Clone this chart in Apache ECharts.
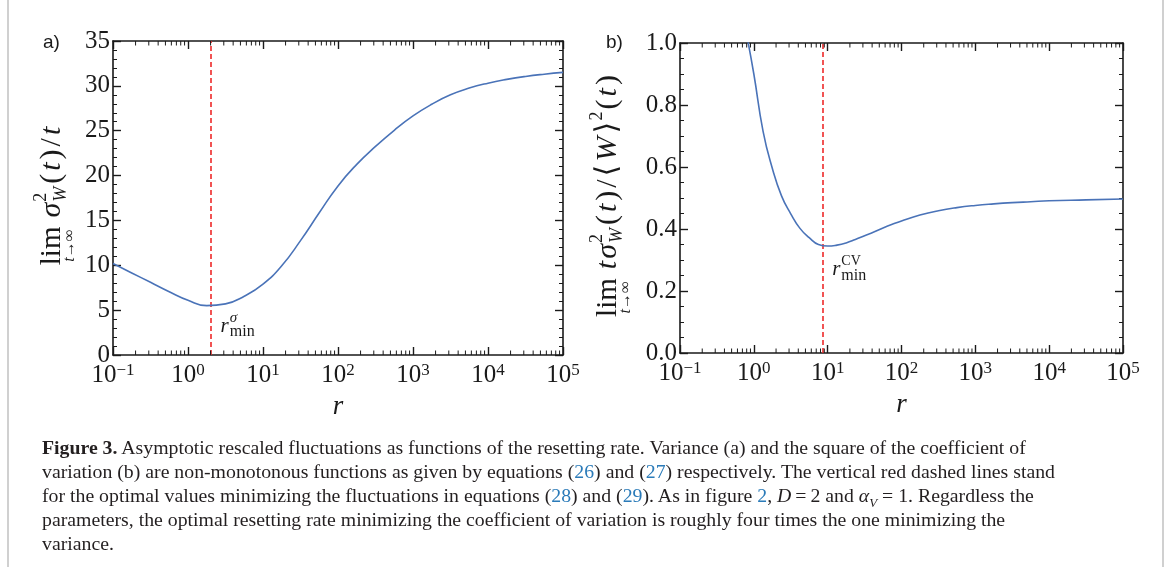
<!DOCTYPE html>
<html><head><meta charset="utf-8">
<script src="https://cdn.jsdelivr.net/npm/echarts@6/dist/echarts.min.js"></script>
<style>
html,body{margin:0;padding:0;background:#fff;}
#wrap{position:relative;width:1170px;height:567px;overflow:hidden;background:#fff;}
#chart{position:absolute;left:0;top:0;width:1170px;height:567px;}
.bl{position:absolute;top:0;width:2px;height:567px;background:#d0d0d0;}
#cap{position:absolute;left:42px;top:435px;font-family:'Liberation Serif','DejaVu Serif',serif;font-size:19.8px;line-height:24px;color:#231f20;white-space:nowrap;}
#cap .ln{color:#2b7bb9;}
#cap i{font-style:italic;}
#cap sub{font-size:13px;line-height:0;}
</style></head>
<body>
<div id="wrap">
<div class="bl" style="left:7px"></div>
<div class="bl" style="left:1162px"></div>
<div id="chart"></div>
<div id="cap"><b>Figure 3.</b> Asymptotic rescaled fluctuations as functions of the resetting rate. Variance (a) and the square of the coefficient of<br>variation (b) are non-monotonous functions as given by equations (<span class="ln">26</span>) and (<span class="ln">27</span>) respectively. The vertical red dashed lines stand<br>for the optimal values minimizing the fluctuations in equations (<span class="ln">28</span>) and (<span class="ln">29</span>). As in figure <span class="ln">2</span>, <i>D</i>&#8201;=&#8201;2 and <i>α<sub>V</sub></i> = 1. Regardless the<br>parameters, the optimal resetting rate minimizing the coefficient of variation is roughly four times the one minimizing the<br>variance.</div>
</div>
<script>
// ---- data ----
// panel a): r and lim sigma_W^2(t)/t
const rA = [0.1, 0.1778, 0.3162, 0.5623, 1, 1.778, 3.162, 5.623, 10, 17.78, 31.62, 56.23, 100, 177.8, 316.2, 562.3, 1000, 1778, 3162, 5623, 10000, 17783, 31623, 56234, 100000];
const vA = [10.2, 9.15, 8.1, 7.05, 6.1, 5.5, 5.7, 6.55, 7.9, 9.95, 12.75, 15.85, 18.85, 21.25, 23.25, 25.05, 26.65, 27.95, 29.0, 29.75, 30.3, 30.72, 31.05, 31.3, 31.5];
// panel b): r and lim t sigma_W^2(t)/<W>^2(t)
const rB = [0.794, 1, 1.334, 1.778, 2.371, 3.162, 4.217, 5.623, 7.499, 10, 13.34, 17.78, 23.71, 31.62, 42.17, 56.23, 74.99, 100, 177.8, 316.2, 562.3, 1000, 1778, 3162, 5623, 10000, 31623, 100000];
const vB = [1.03, 0.90, 0.715, 0.596, 0.507, 0.449, 0.402, 0.372, 0.350, 0.345, 0.348, 0.355, 0.366, 0.378, 0.390, 0.403, 0.415, 0.426, 0.445, 0.459, 0.469, 0.476, 0.481, 0.485, 0.488, 0.491, 0.494, 0.497];
const rMinA = 2;     // red dashed line, panel a
const rMinB = 8.7;   // red dashed line, panel b
const xMin = 0.1, xMax = 100000;
const yA = {min: 0, max: 35, interval: 5, minorSplit: 5};
const yB = {min: 0, max: 1, interval: 0.2, minorSplit: 4};
const panelLabels = ['a)', 'b)'];

const SERIF = "'Liberation Serif','DejaVu Serif',serif";
const SANS = "'Liberation Sans',Arial,sans-serif";
const INK = '#1a1a1a';
const BLUE = '#4a73b8';
const RED = '#ee2a2a';

// minor tick positions of the log axes (2..9 x 10^d)
const minorR = [];
for (let d = -1; d < 5; d++) for (let k = 2; k <= 9; k++) minorR.push(+(k * Math.pow(10, d)).toPrecision(3));

function expLabel(v) {
  const e = Math.round(Math.log10(v));
  return '{b|10}{s|' + (e < 0 ? '\u2212' + (-e) : e) + '}';
}
const xRich = {
  b: {fontFamily: SERIF, fontSize: 25, color: INK, lineHeight: 26, verticalAlign: 'bottom'},
  s: {fontFamily: SERIF, fontSize: 17, color: INK, lineHeight: 17, verticalAlign: 'top'}
};

function axesFor(g) {
  const common = {type: 'log', gridIndex: g, min: xMin, max: xMax, logBase: 10,
    axisLine: {onZero: false, lineStyle: {color: INK, width: 1.6}},
    axisTick: {inside: true, length: 8, lineStyle: {color: INK, width: 1.4}},
    minorTick: {show: false}, splitLine: {show: false}};
  return [
    Object.assign({}, common, {position: 'bottom',
     axisLabel: {formatter: expLabel, rich: xRich, margin: 7, showMinLabel: true, showMaxLabel: true},
     name: 'r', nameLocation: 'middle', nameGap: 38,
     nameTextStyle: {fontFamily: SERIF, fontStyle: 'italic', fontSize: 27, color: INK}}),
    Object.assign({}, common, {position: 'top', axisLabel: {show: false}})
  ];
}

function yAxesFor(g, cfg, fmt) {
  const common = {type: 'value', gridIndex: g, min: cfg.min, max: cfg.max, interval: cfg.interval,
    axisLine: {show: true, onZero: false, lineStyle: {color: INK, width: 1.6}},
    axisTick: {show: true, inside: true, length: 8, lineStyle: {color: INK, width: 1.4}},
    minorTick: {show: true, splitNumber: cfg.minorSplit, length: 4, lineStyle: {color: INK, width: 1}},
    splitLine: {show: false}};
  return [
    Object.assign({}, common, {position: 'left', axisLabel: {formatter: fmt, fontFamily: SERIF, fontSize: 25, color: INK, margin: 3}}),
    Object.assign({}, common, {position: 'right', axisLabel: {show: false}})
  ];
}

function lineSeries(g, r, v, rMin) {
  return {
    type: 'line', xAxisIndex: g * 2, yAxisIndex: g * 2,
    data: r.map((x, i) => [x, v[i]]),
    showSymbol: false, smooth: 0.5, clip: true, z: 3,
    lineStyle: {color: BLUE, width: 1.6},
    markLine: {
      silent: true, symbol: ['none', 'none'], z: 2,
      lineStyle: {color: RED, type: [5, 3], width: 1.6},
      label: {show: false},
      data: [{xAxis: rMin}]
    }
  };
}

function minorTickSeries(g, cfg) {
  return {
    type: 'custom', xAxisIndex: g * 2, yAxisIndex: g * 2, silent: true, clip: false, z: 5,
    data: minorR.map(r => [r, cfg.min, cfg.max]),
    encode: {x: 0, y: 1},
    renderItem: (params, api) => {
      const b = api.coord([api.value(0), api.value(1)]);
      const t = api.coord([api.value(0), api.value(2)]);
      return {type: 'group', children: [
        {type: 'line', shape: {x1: b[0], y1: b[1], x2: b[0], y2: b[1] - 4.5}, style: {stroke: INK, lineWidth: 1}},
        {type: 'line', shape: {x1: t[0], y1: t[1], x2: t[0], y2: t[1] + 4.5}, style: {stroke: INK, lineWidth: 1}}
      ]};
    }
  };
}

const chart = echarts.init(document.getElementById('chart'), null, {renderer: 'canvas'});
chart.setOption({
  animation: false,
  grid: [
    {left: 113, top: 41, width: 450, height: 314},
    {left: 680, top: 43, width: 443, height: 310}
  ],
  xAxis: axesFor(0).concat(axesFor(1)),
  yAxis: yAxesFor(0, yA, v => String(v)).concat(yAxesFor(1, yB, v => v.toFixed(1))),
  series: [
    lineSeries(0, rA, vA, rMinA),
    lineSeries(1, rB, vB, rMinB),
    minorTickSeries(0, yA),
    minorTickSeries(1, yB)
  ]
});

// ---- math-style text (axis titles and annotations) ----
const mctx = document.createElement('canvas').getContext('2d');
function tokFont(t) { return (t.it ? 'italic ' : '') + t.size + "px 'Liberation Serif'"; }
function mathGroup(tokens, gap, cx, cy, rotate) {
  let x = 0, prev = null;
  const placed = [];
  tokens.forEach(t => {
    mctx.font = tokFont(t);
    const w = mctx.measureText(t.s).width;
    if (t.under && prev) { placed.push({t, x: prev.x + (prev.w - w) / 2}); return; }
    if (t.stack) { placed.push({t, x}); return; }
    placed.push({t, x});
    prev = {x, w};
    x += w + (t.gap != null ? t.gap : gap);
  });
  const total = x - gap;
  const children = placed.map(p => ({
    type: 'text', x: p.x - total / 2, y: p.t.dy || 0,
    style: {text: p.t.s, fontFamily: SERIF, fontSize: p.t.size, fontStyle: p.t.it ? 'italic' : 'normal',
            fill: INK, align: 'left', verticalAlign: 'middle'}
  }));
  return {type: 'group', x: cx, y: cy, rotation: rotate ? Math.PI / 2 : 0, silent: true, children};
}
function mathGroupLeft(tokens, gap, lx, cy) {
  const g = mathGroup(tokens, gap, 0, cy, false);
  const minX = Math.min.apply(null, g.children.map(c => c.x));
  g.x = lx - minX;
  return g;
}

const M = 29, S = 18;
const nameATokens = [
  {s: 'lim', size: M, gap: 9},
  {s: 't\u2192\u221e', size: 16, it: true, under: true, dy: 18},
  {s: '\u03c3', size: M + 1, it: true, gap: 1},
  {s: '2', size: S, stack: true, dy: -11},
  {s: 'W', size: S, it: true, dy: 9, gap: 3},
  {s: '(', size: M + 1}, {s: 't', size: M + 1, it: true}, {s: ')', size: M + 1},
  {s: '/', size: M + 1}, {s: 't', size: M + 1, it: true}
];
const nameBTokens = [
  {s: 'lim', size: M, gap: 9},
  {s: 't\u2192\u221e', size: 16, it: true, under: true, dy: 18},
  {s: 't', size: M + 1, it: true, gap: 2},
  {s: '\u03c3', size: M + 1, it: true, gap: 1},
  {s: '2', size: S, stack: true, dy: -11},
  {s: 'W', size: S, it: true, dy: 9, gap: 3},
  {s: '(', size: M + 1}, {s: 't', size: M + 1, it: true}, {s: ')', size: M + 1},
  {s: '/', size: M + 1}, {s: '\u27e8', size: M + 1}, {s: 'W', size: M + 1, it: true}, {s: '\u27e9', size: M + 1, gap: 1},
  {s: '2', size: S, dy: -11, gap: 2},
  {s: '(', size: M + 1}, {s: 't', size: M + 1, it: true}, {s: ')', size: M + 1}
];
const annATokens = [
  {s: 'r', size: 21, it: true, gap: 1},
  {s: '\u03c3', size: 15, it: true, stack: true, dy: -8},
  {s: 'min', size: 16, dy: 6}
];
const annBTokens = [
  {s: 'r', size: 21, it: true, gap: 1},
  {s: 'CV', size: 14, stack: true, dy: -8},
  {s: 'min', size: 16, dy: 6}
];

const pA = chart.convertToPixel({xAxisIndex: 0, yAxisIndex: 0}, [rMinA, 3.2]);
const pB = chart.convertToPixel({xAxisIndex: 2, yAxisIndex: 2}, [rMinB, 0.27]);

chart.setOption({
  graphic: [
    {type: 'text', left: 43, top: 33, silent: true, style: {text: panelLabels[0], fontFamily: SANS, fontSize: 19, fill: INK}},
    {type: 'text', left: 606, top: 33, silent: true, style: {text: panelLabels[1], fontFamily: SANS, fontSize: 19, fill: INK}},
    mathGroup(nameATokens, 3, 52, 196, true),
    mathGroup(nameBTokens, 3, 608, 196, true),
    mathGroupLeft(annATokens, 1, pA[0] + 10, pA[1]),
    mathGroupLeft(annBTokens, 1, pB[0] + 9, pB[1])
  ]
});
</script>
</body></html>
